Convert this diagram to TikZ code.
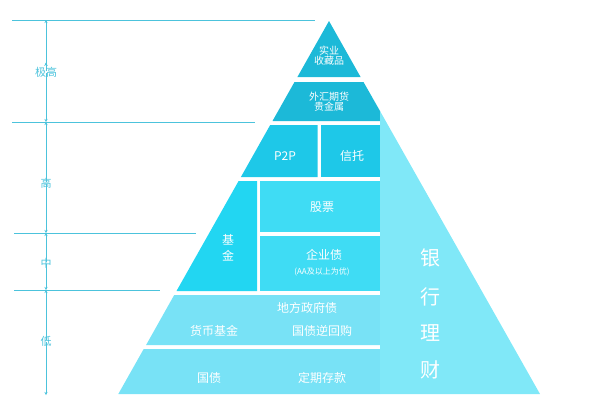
\documentclass[tikz,border=0pt]{standalone}
\usepackage{fontspec}
\setmainfont{Noto Sans CJK SC}
\usetikzlibrary{arrows.meta}
\definecolor{cdark}{HTML}{1CB9D8}
\definecolor{cmid}{HTML}{1EC8E8}
\definecolor{cfund}{HTML}{22D6F2}
\definecolor{cstock}{HTML}{3FDCF4}
\definecolor{clow}{HTML}{78E2F6}
\definecolor{clight}{HTML}{80E8F8}
\definecolor{caxis}{HTML}{4CC3DC}
\tikzset{
 lbl/.style={text=white,font=\fontsize{10}{12}\selectfont,align=center,inner sep=0pt},
 big/.style={text=white,font=\fontsize{20}{22}\selectfont,inner sep=0pt},
 axl/.style={text=caxis,font=\fontsize{11}{13}\selectfont,inner sep=0pt},
 axline/.style={draw=caxis,line width=0.8pt},
 axarr/.style={draw=caxis,line width=0.8pt,{Stealth[length=3pt,width=3pt]}-{Stealth[length=3pt,width=3pt]}}
}
\begin{document}
\begin{tikzpicture}[x=1pt,y=-1pt]
\useasboundingbox (0,0) rectangle (600,405);
% blocks
\fill[cdark] (329,21) -- (360.6,77) -- (297.4,77) -- cycle;
\fill[cdark] (294.5,82) -- (363.5,82) -- (380,111) -- (380,121) -- (272.5,121) -- cycle;
\fill[cmid] (270.2,125) -- (317.5,125) -- (317.5,177) -- (240.9,177) -- cycle;
\fill[cmid] (320.5,125) -- (380,125) -- (380,177) -- (320.5,177) -- cycle;
\fill[cfund] (238.6,181) -- (257,181) -- (257,291) -- (176.5,291) -- cycle;
\fill[cstock] (260,181) rectangle (380,232);
\fill[cstock] (260,236) rectangle (380,291);
\fill[clow] (174.2,295) -- (380,295) -- (380,345) -- (146.1,345) -- cycle;
\fill[clow] (143.7,349) -- (380,349) -- (380,394) -- (118.3,394) -- cycle;
\fill[clight] (380,111) -- (540,394) -- (380,394) -- cycle;
% texts
\node[lbl] (a1) at (329,56) {实业\\[-2pt]收藏品};
\node[lbl] (a2) at (329,102) {外汇期货\\[-2pt]贵金属};
\node[lbl,font=\fontsize{12}{14}\selectfont] (a3) at (285,156) {P2P};
\node[lbl,font=\fontsize{12}{14}\selectfont] (a4) at (352,156) {信托};
\node[lbl,font=\fontsize{12}{14}\selectfont] (a5) at (228,248) {基\\[2pt]金};
\node[lbl,font=\fontsize{12}{14}\selectfont] (a6) at (322,207) {股票};
\node[lbl,font=\fontsize{12}{14}\selectfont] (a7) at (324,255) {企业债};
\node[lbl,font=\fontsize{8}{10}\selectfont] (a8) at (322,272) {(AA及以上为优)};
\node[lbl,font=\fontsize{12}{14}\selectfont] (a9) at (307,308) {地方政府债};
\node[lbl,font=\fontsize{12}{14}\selectfont] (a10) at (214,331) {货币基金};
\node[lbl,font=\fontsize{12}{14}\selectfont] (a11) at (322,331) {国债逆回购};
\node[lbl,font=\fontsize{12}{14}\selectfont] (a12) at (209,378) {国债};
\node[lbl,font=\fontsize{12}{14}\selectfont] (a13) at (322,378) {定期存款};
\node[big] (b1) at (430,258) {银};
\node[big] (b2) at (430,297) {行};
\node[big] (b3) at (430,333) {理};
\node[big] (b4) at (430,370) {财};
% axis
\draw[axline] (12,20) -- (315,20);
\draw[axline] (12,122) -- (255,122);
\draw[axline] (14,233) -- (196,233);
\draw[axline] (14,290) -- (160,290);
\node[axl] (l1) at (46,72) {极高};
\node[axl] (l2) at (46,183) {高};
\node[axl] (l3) at (46,263) {中};
\node[axl] (l4) at (46,341) {低};
\coordinate (t0) at (46,20);
\coordinate (t1) at (46,122);
\coordinate (t2) at (46,233);
\coordinate (t3) at (46,290);
\coordinate (t4) at (46,395);
\draw[axarr] (t0) -- (l1.north) ++(0,-4);
\draw[axline,-{Stealth[length=3pt,width=3pt]}] ([yshift=-4pt]l1.north) -- (t0);
\draw[axline,-{Stealth[length=3pt,width=3pt]}] ([yshift=4pt]l1.south) -- (t1);
\draw[axline,-{Stealth[length=3pt,width=3pt]}] ([yshift=-4pt]l2.north) -- (t1);
\draw[axline,-{Stealth[length=3pt,width=3pt]}] ([yshift=4pt]l2.south) -- (t2);
\draw[axline,-{Stealth[length=3pt,width=3pt]}] ([yshift=-4pt]l3.north) -- (t2);
\draw[axline,-{Stealth[length=3pt,width=3pt]}] ([yshift=4pt]l3.south) -- (t3);
\draw[axline,-{Stealth[length=3pt,width=3pt]}] ([yshift=-4pt]l4.north) -- (t3);
\draw[axline,-{Stealth[length=3pt,width=3pt]}] ([yshift=4pt]l4.south) -- (t4);
\end{tikzpicture}
\end{document}
